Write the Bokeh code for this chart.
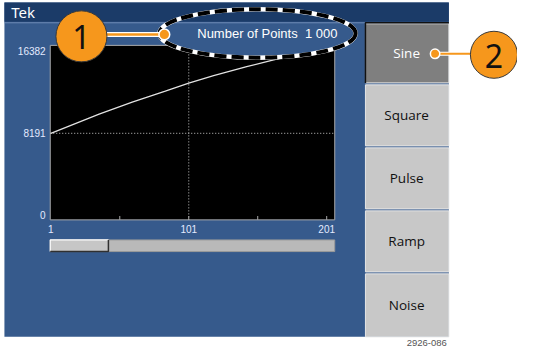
from bokeh.plotting import figure
from bokeh.models import Range1d
from bokeh.core.properties import value
from bokeh.embed import file_html
from bokeh.resources import INLINE

# ---- data ----
x_ticks = [1, 101, 201]
x_minor = [51, 101, 151, 201]
y_ticks = [0, 8191, 16382]
wave_x = [1, 36, 60, 84, 101, 119, 143, 159, 175]
wave_y = [8191, 10100, 11300, 12400, 13200, 13950, 14850, 15400, 15950]
buttons = ["Sine", "Square", "Pulse", "Ramp", "Noise"]
points_label = "Number of Points"
n_points = "1 000"
title = "Tek"
fig_id = "2926-086"

# ---- layout (reference pixel space) ----
X0, X1, Y0, Y1 = 6, 533, 3, 362
BLUE = "#365a8c"
NAVY = "#1b3b68"
ORANGE = "#f6971c"

p = figure(width=517, height=348, x_range=Range1d(X0, X1), y_range=Range1d(Y1, Y0),
           output_backend="svg", toolbar_location=None, min_border=0)
p.axis.visible = False
p.grid.visible = False
p.outline_line_color = None
p.background_fill_color = "white"
p.border_fill_color = "white"

# waveform scales: map data into the scope's plot box
PX_X1, PX_PER_X = 57.3, 1.406
PY_Y0, PX_PER_Y = 224.5, 169.0 / 16382
p.extra_x_ranges = {"wx": Range1d(1 + (X0 - PX_X1) / PX_PER_X, 1 + (X1 - PX_X1) / PX_PER_X)}
p.extra_y_ranges = {"wy": Range1d((PY_Y0 - Y1) / PX_PER_Y, (PY_Y0 - Y0) / PX_PER_Y)}

BOX_L, BOX_R, BOX_T, BOX_B = 56.7, 346.7, 49.3, 229.3

# panel
p.quad(left=[10], right=[463], top=[5], bottom=[350], fill_color=BLUE, line_color=None)
# plot box
p.quad(left=[BOX_L], right=[BOX_R], top=[BOX_T], bottom=[BOX_B], fill_color="black",
       line_color="#a8a8a8", line_width=1)
# dotted grid at the middle ticks
p.segment(x0=[x_ticks[1]], x1=[x_ticks[1]], y0=[BOX_T], y1=[BOX_B], x_range_name="wx",
          line_color="#c8c8c8", line_width=1, line_dash="1 2")
p.segment(x0=[BOX_L], x1=[BOX_R], y0=[y_ticks[1]], y1=[y_ticks[1]], y_range_name="wy",
          line_color="#c8c8c8", line_width=1, line_dash="1 2")
# minor ticks at bottom
p.segment(x0=x_minor, x1=x_minor, y0=[BOX_B] * len(x_minor), y1=[BOX_B - 4] * len(x_minor),
          x_range_name="wx", line_color="#a8a8a8", line_width=1)
# waveform
p.line(wave_x, wave_y, x_range_name="wx", y_range_name="wy", line_color="#e2e2e2", line_width=1.3)

# tick labels
lab_font = value("Liberation Sans")
p.text(x=x_ticks, y=[239] * len(x_ticks), text=[str(v) for v in x_ticks], x_range_name="wx",
       text_font=lab_font, text_font_size=value("10px"), text_color="#e4eaff",
       text_align="center", text_baseline="middle")
p.text(x=[52] * len(y_ticks), y=y_ticks, text=[str(v) for v in y_ticks], y_range_name="wy",
       text_font=lab_font, text_font_size=value("10px"), text_color="#e4eaff",
       text_align="right", text_baseline="middle")

# slider
p.quad(left=[BOX_L], right=[BOX_R], top=[250], bottom=[262], fill_color="#b9b9b9",
       line_color="#9a9a9a", line_width=1)
p.quad(left=[BOX_L], right=[116], top=[250], bottom=[262], fill_color="#c6c6c6", line_color=None)
p.multi_line(xs=[[BOX_L, BOX_L, 116]], ys=[[262, 250, 250]], line_color="white", line_width=1.2)
p.multi_line(xs=[[BOX_L, 116, 116]], ys=[[262, 262, 250]], line_color="#303030", line_width=1.5)

# ellipse fill
EX, EY, EW, EH = 268, 37, 200, 50
p.ellipse(x=[EX], y=[EY], width=[EW], height=[EH], fill_color=BLUE, line_color=None)

# header
p.quad(left=[10], right=[463], top=[5], bottom=[25], fill_color=NAVY, line_color=None)
p.segment(x0=[10], x1=[378], y0=[26], y1=[26], line_color="#6f8bb5", line_width=1)
p.text(x=[17], y=[15], text=[title], text_font=value("Noto Sans"), text_font_size=value("15px"),
       text_color="white", text_align="left", text_baseline="middle")

# buttons
tops = [27, 90, 155, 220, 285]
bots = [88, 153, 218, 283, 350]
fills = ["#7f7f7f"] + ["#c8c8c8"] * 4
p.quad(left=[378] * 5, right=[463] * 5, top=tops, bottom=bots, fill_color=fills,
       line_color="#e6e6e6", line_width=1)
p.multi_line(xs=[[378, 378, 463]], ys=[[88, 26, 26]], line_color="#111111", line_width=1.5)
mids = [(t + b) / 2 for t, b in zip(tops, bots)]
p.text(x=[420] * 5, y=mids, text=buttons, text_font=value("Open Sans"),
       text_font_size=value("13.5px"), text_color=["white"] + ["#111111"] * 4,
       text_align="center", text_baseline="middle")

# dashed ellipse outline
p.ellipse(x=[EX], y=[EY], width=[EW], height=[EH], fill_color=None, line_color="white", line_width=4.5)
p.ellipse(x=[EX], y=[EY], width=[EW], height=[EH], fill_color=None, line_color="black",
          line_width=4, line_dash="12 5")
p.text(x=[278], y=[37], text=[f"{points_label}\u00a0\u00a0{n_points}"],
       text_font=value("Liberation Sans"), text_font_size=value("13px"), text_color="white",
       text_align="center", text_baseline="middle")

# callouts
p.line([112, 173], [38, 38], line_color="white", line_width=5)
p.line([112, 173], [38, 38], line_color=ORANGE, line_width=2.5)
p.line([449, 490], [58, 58], line_color="white", line_width=4)
p.line([449, 490], [58, 58], line_color=ORANGE, line_width=2)
p.circle(x=[173, 449], y=[38, 58], radius=[5.5, 4.8], fill_color=ORANGE, line_color="white",
         line_width=1.5)
p.circle(x=[88.5, 509], y=[40, 59], radius=[26, 24], fill_color=ORANGE, line_color="#3a3a3a",
         line_width=1)
p.text(x=[88.5, 509], y=[41, 60], text=["1", "2"], text_font=value("Noto Sans"),
       text_font_size=value("32px"), text_color="#111111", text_align="center",
       text_baseline="middle")

# figure id
p.text(x=[461], y=[356], text=[fig_id], text_font=value("Liberation Sans"),
       text_font_size=value("9.5px"), text_color="#555555", text_align="right",
       text_baseline="middle")

open("out.html", "w").write(file_html(p, INLINE))
